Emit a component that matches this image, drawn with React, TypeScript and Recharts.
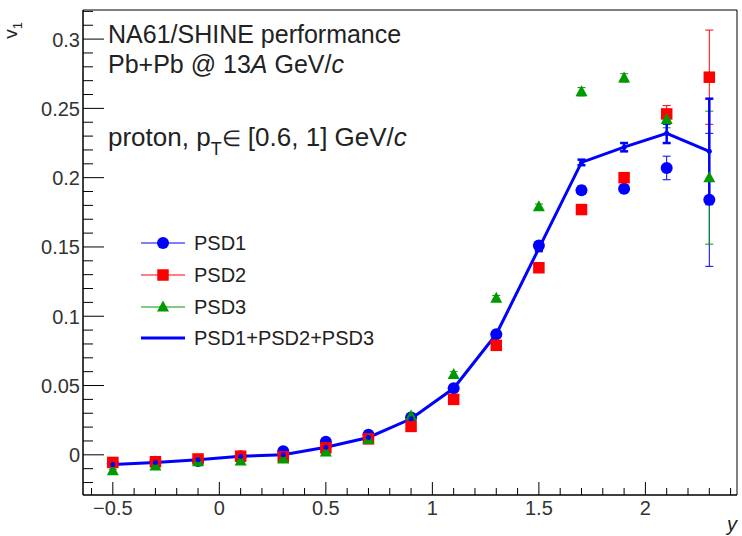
import React from 'react'
import { ComposedChart, Line, Scatter, XAxis, YAxis, ErrorBar, ReferenceArea } from 'recharts'

// rapidity bins
const rapidity = [-0.5, -0.3, -0.1, 0.1, 0.3, 0.5, 0.7, 0.9, 1.1, 1.3, 1.5, 1.7, 1.9, 2.1, 2.3]

const psd1 = [-0.006, -0.005, -0.0045, -0.001, 0.0025, 0.0095, 0.0145, 0.027, 0.048, 0.087, 0.151, 0.191, 0.192, 0.207, 0.184]
const psd1Err = [0.001, 0.001, 0.001, 0.001, 0.001, 0.001, 0.001, 0.0015, 0.002, 0.002, 0.003, 0.003, 0.003, 0.0085, 0.048]
const psd2 = [-0.0055, -0.005, -0.003, -0.001, -0.0015, 0.005, 0.0115, 0.0205, 0.04, 0.079, 0.135, 0.177, 0.2, 0.246, 0.2725]
const psd2Err = [0.001, 0.001, 0.001, 0.001, 0.001, 0.001, 0.001, 0.0015, 0.002, 0.002, 0.003, 0.003, 0.003, 0.006, 0.034]
const psd3 = [-0.0115, -0.008, -0.005, -0.0045, -0.003, 0.002, 0.011, 0.028, 0.058, 0.113, 0.179, 0.262, 0.272, 0.242, 0.2]
const psd3Err = [0.001, 0.001, 0.001, 0.001, 0.001, 0.001, 0.001, 0.0015, 0.002, 0.002, 0.002, 0.003, 0.003, 0.006, 0.048]
const combined = [-0.007, -0.0055, -0.0035, -0.001, 0.0, 0.0055, 0.0125, 0.026, 0.048, 0.087, 0.149, 0.211, 0.222, 0.232, 0.219]
const combinedErr = [0.0005, 0.0005, 0.0005, 0.0005, 0.0005, 0.0005, 0.001, 0.001, 0.001, 0.0015, 0.002, 0.002, 0.003, 0.007, 0.038]

const xMajor = [-0.5, 0, 0.5, 1, 1.5, 2]
const yMajor = [0, 0.05, 0.1, 0.15, 0.2, 0.25, 0.3]
const xDomain = [-0.64, 2.43]
const yDomain = [-0.029, 0.321]

// minor ticks: 5 per major on x, 5 per major on y
const xTicks = Array.from({ length: 31 }, (_, i) => Math.round((-0.6 + i * 0.1) * 10) / 10)
const yTicks = Array.from({ length: 35 }, (_, i) => Math.round((-0.02 + i * 0.01) * 100) / 100)

const BLUE = '#0000ff'
const RED = '#ff0000'
const GREEN = '#009900'
const FONT = '"Liberation Sans", Arial, Helvetica, sans-serif'

const toRows = (vals: number[], errs: number[]) => rapidity.map((x, i) => ({ x, v: vals[i], e: errs[i] }))

const isMajor = (v: number, step: number) => Math.abs(v / step - Math.round(v / step)) < 1e-6
const fmt = (v: number) => {
  const s = String(parseFloat(v.toFixed(2)))
  return s.startsWith('-') ? '\u2212' + s.slice(1) : s
}

const XTick = (props: any) => {
  const { x, y, payload } = props
  const major = xMajor.some((m) => Math.abs(m - payload.value) < 1e-6)
  return (
    <g>
      <line x1={x} y1={y} x2={x} y2={y - (major ? 13 : 7)} stroke="#000" strokeWidth={1} />
      {major && (
        <text x={x} y={y + 20} textAnchor="middle" fontSize={20} fill="#333" fontFamily={FONT}>
          {fmt(payload.value)}
        </text>
      )}
    </g>
  )
}

const YTick = (props: any) => {
  const { x, y, payload } = props
  const major = yMajor.some((m) => Math.abs(m - payload.value) < 1e-6)
  return (
    <g>
      <line x1={x} y1={y} x2={x + (major ? 21 : 10)} y2={y} stroke="#000" strokeWidth={1} />
      {major && (
        <text x={x - 3} y={y + 7.5} textAnchor="end" fontSize={20} fill="#333" fontFamily={FONT}>
          {fmt(payload.value)}
        </text>
      )}
    </g>
  )
}

const Circle = ({ cx, cy, fill }: any) => <circle cx={cx} cy={cy} r={6} fill={fill} />
const Square = ({ cx, cy, fill }: any) => <rect x={cx - 5.75} y={cy - 5.75} width={11.5} height={11.5} fill={fill} />
const Triangle = ({ cx, cy, fill }: any) => (
  <polygon points={`${cx},${cy - 6.5} ${cx - 6},${cy + 4.5} ${cx + 6},${cy + 4.5}`} fill={fill} />
)
const SmallDot = ({ cx, cy }: any) => <circle cx={cx} cy={cy} r={2.5} fill={BLUE} />

const legendRows = [
  { label: 'PSD1', color: BLUE, marker: 'circle', y: 243 },
  { label: 'PSD2', color: RED, marker: 'square', y: 275 },
  { label: 'PSD3', color: GREEN, marker: 'triangle', y: 307 },
  { label: 'PSD1+PSD2+PSD3', color: BLUE, marker: 'none', y: 338 },
]

export default function App() {
  return (
    <div style={{ position: 'absolute', left: 0, top: 0, width: 742, height: 536, background: '#fff' }}>
      <ComposedChart width={742} height={536} margin={{ top: 10, right: 5, left: 0, bottom: 0 }}>
        <XAxis
          type="number"
          dataKey="x"
          domain={xDomain}
          allowDataOverflow
          ticks={xTicks}
          interval={0}
          tickSize={0}
          tickMargin={0}
          tickLine={false}
          tick={XTick}
          height={41}
          axisLine={{ stroke: '#000' }}
        />
        <YAxis
          type="number"
          domain={yDomain}
          allowDataOverflow
          ticks={yTicks}
          interval={0}
          tickSize={0}
          tickMargin={0}
          tickLine={false}
          tick={YTick}
          width={83}
          axisLine={{ stroke: '#000' }}
        />
        <ReferenceArea x1={xDomain[0]} x2={xDomain[1]} y1={yDomain[0]} y2={yDomain[1]} fill="none" stroke="#000" strokeWidth={1} ifOverflow="visible" />

        <Scatter data={toRows(psd1, psd1Err)} dataKey="v" fill={BLUE} shape={Circle} isAnimationActive={false}>
          <ErrorBar dataKey="e" direction="y" width={4} stroke={BLUE} strokeWidth={1} />
        </Scatter>
        <Scatter data={toRows(psd2, psd2Err)} dataKey="v" fill={RED} shape={Square} isAnimationActive={false}>
          <ErrorBar dataKey="e" direction="y" width={4} stroke={RED} strokeWidth={1} />
        </Scatter>
        <Scatter data={toRows(psd3, psd3Err)} dataKey="v" fill={GREEN} shape={Triangle} isAnimationActive={false}>
          <ErrorBar dataKey="e" direction="y" width={4} stroke={GREEN} strokeWidth={1} />
        </Scatter>
        <Line
          data={toRows(combined, combinedErr)}
          dataKey="v"
          type="linear"
          stroke={BLUE}
          strokeWidth={3}
          dot={SmallDot}
          activeDot={false}
          isAnimationActive={false}
        >
          <ErrorBar dataKey="e" direction="y" width={4} stroke={BLUE} strokeWidth={2.5} />
        </Line>
      </ComposedChart>

      <svg width={742} height={536} style={{ position: 'absolute', left: 0, top: 0, pointerEvents: 'none' }} fontFamily={FONT}>
        <text x={17} y={22} fontSize={19} fill="#222" transform="rotate(-90 17 22)" textAnchor="end">
          v<tspan fontSize={13} dy={5}>1</tspan>
        </text>
        <text x={737} y={531} fontSize={20} fill="#222" fontStyle="italic" textAnchor="end">y</text>

        <text x={108} y={43} fontSize={25} fill="#222">NA61/SHINE performance</text>
        <text x={108} y={73} fontSize={25} fill="#222">
          Pb+Pb @ 13<tspan fontStyle="italic">A</tspan> GeV/<tspan fontStyle="italic">c</tspan>
        </text>
        <text x={108} y={146} fontSize={26} fill="#222">
          proton, p<tspan fontSize={18} dy={9}>T</tspan>
          <tspan dy={-9} fontSize={22}>{'\u2208'}</tspan>
          <tspan>{' [0.6, 1] GeV/'}</tspan>
          <tspan fontStyle="italic">c</tspan>
        </text>

        {legendRows.map((r) => (
          <g key={r.label}>
            <line x1={141} y1={r.y} x2={185} y2={r.y} stroke={r.color} strokeWidth={r.marker === 'none' ? 3 : 1} />
            {r.marker === 'circle' && <circle cx={163} cy={r.y} r={6} fill={r.color} />}
            {r.marker === 'square' && <rect x={157.25} y={r.y - 5.75} width={11.5} height={11.5} fill={r.color} />}
            {r.marker === 'triangle' && (
              <polygon points={`163,${r.y - 6.5} 157,${r.y + 4.5} 169,${r.y + 4.5}`} fill={r.color} />
            )}
            <text x={194} y={r.y + 7} fontSize={20} fill="#222">{r.label}</text>
          </g>
        ))}
      </svg>
    </div>
  )
}
